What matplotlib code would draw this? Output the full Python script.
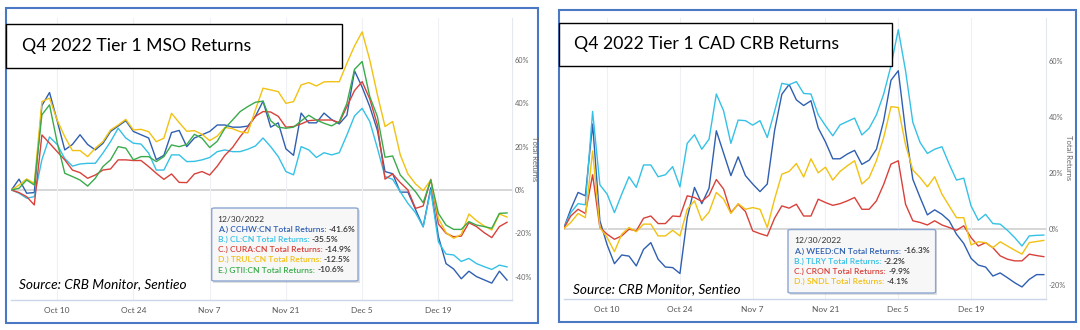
import numpy as np
import matplotlib
matplotlib.use('Agg')
import matplotlib.pyplot as plt
from matplotlib.patches import Rectangle, FancyBboxPatch

plt.rcParams['font.family'] = ['Lato', 'DejaVu Sans']

# ---- data (total returns, %, one value per trading day from Sep 30) ----
tick_labels = ['Oct 10', 'Oct 24', 'Nov 7', 'Nov 21', 'Dec 5', 'Dec 19']
tick_days = [6, 16, 26, 36, 46, 56]

mso_cchw = [0, 5, -1.5, -1.2, 39, 45, 32, 18.5, 21, 25.5, 21, 18.5, 21.5, 27, 29.5, 32, 27, 25.5, 24, 14,
            16, 26.5, 27.5, 20, 24, 25.5, 27, 30, 30, 29, 29, 29.5, 34, 41, 29, 31, 19, 16, 35.5, 31,
            31, 35.5, 32.5, 30.5, 34.5, 55, 47.5, 38.5, 27.5, 8.5, 7.5, -1, -1, -9, -17, 1, -21.5, -34,
            -36.5, -41, -37.5, -40, -41.5, -43, -37.5, -41.6]
mso_cl = [0, -1.5, -3.8, -3.1, 14, 24.5, 21, 14.5, 11, 12, 12.3, 12.3, 17, 22.3, 28.5, 24, 21.6, 21.2, 17,
          9.2, 9.2, 16.2, 16.2, 13.1, 13.2, 13.9, 15, 17.7, 18.5, 17.7, 17.7, 18.8, 20.3, 24, 20, 15.4,
          8.5, 7, 20, 18.5, 15, 17.2, 16.2, 17.2, 25.4, 34.2, 37.7, 31.6, 19.3, 6.2, 4.9, -0.8, -6.2,
          -10.5, -17, 0, -24, -29.6, -30, -33, -31.6, -34, -35.4, -36.7, -34.7, -35.5]
mso_cura = [0, -1.2, -3.1, -6.9, 25.4, 21.6, 17.7, 13.9, 9.2, 8, 5.4, 6.9, 9.2, 9.7, 13.9, 13.9, 13.6,
            13.6, 10.8, 7.7, 4.9, 7.4, 3.5, 3.4, 7.4, 8.5, 6.9, 11, 16, 19.6, 24.6, 29, 34, 36.2, 36,
            34, 29, 29.3, 30.5, 32, 32.3, 32.3, 32.3, 31.1, 38.5, 45.9, 50, 42, 30, 5, 7.4, 3.4, 0,
            -8.5, -7.4, 4.9, -15.7, -20, -21.6, -21.3, -15.1, -16.9, -19.7, -22, -16.9, -14.9]
mso_trul = [0, 2.3, 5.1, 3.1, 40.8, 42.4, 32.3, 24.6, 18.2, 18.2, 15.4, 19.3, 22.3, 27.7, 30, 32.6, 27.7,
            28, 26.9, 22.3, 23.9, 35.4, 31.1, 27.1, 27.4, 25.7, 22.8, 24.9, 28.9, 28.3, 26.9, 26.3, 37,
            47, 46.2, 45.4, 40, 40.8, 48.5, 49.6, 48, 49.9, 50, 50, 58.5, 66.5, 73, 60, 44, 29.3, 31.6,
            16.2, 7.4, 2.8, -0.3, 4.6, -13.1, -19.7, -22.3, -20.5, -11.1, -14.2, -16.6, -18.5, -11.1,
            -12.5]
mso_gtii = [0, 0.8, 4.6, 2.3, 34.7, 39.3, 22, 7.7, 6.2, 4.6, 1.8, 5.4, 10.8, 13.9, 20, 19.3, 13.9, 15.4,
            15.4, 13.1, 15.4, 20.8, 20, 21, 25.7, 23.9, 19.6, 22.5, 28.5, 32.3, 36.2, 38.5, 40.5, 41, 32,
            29, 28.5, 29, 31.9, 34.5, 32.3, 30.8, 29.6, 31.6, 40, 55.7, 59.3, 43.1, 33.9, 15.1, 15.7,
            6.9, 3.1, -0.8, -5.9, 4.6, -10.8, -16.2, -18.2, -18.2, -14.6, -16.2, -16.9, -17.7, -10.8,
            -10.6]

cad_weed = [0, 7, 13, 11.8, 37.4, 2.9, -5.7, -12.4, -9.3, -9.7, -13.2, -7.3, -4.9, -10.8, -13.6, -13.8,
            -15.9, 4, 14.8, 9, 14.5, 35, 27, 19, 25.7, 19, 16, 13.3, 16, 35, 48, 51.5, 46, 44, 45.7, 36,
            31, 25, 25, 26.7, 28, 23, 24.5, 28.4, 38.6, 53, 56.4, 35, 17.7, 11.2, 5, 6.8, 5.2, 2.9,
            -1.9, -5.2, -10.5, -12.9, -13.6, -16.8, -15.7, -17.4, -19.2, -20.7, -18, -16.3, -16.3]
cad_tlry = [0, 5.8, 9, 8.6, 41.9, 15.7, 12.4, 5.8, 12.4, 18.6, 14.8, 22.8, 22.8, 18.6, 19.3, 22.2, 15,
            30.5, 33.6, 28.4, 32, 48.1, 42.1, 30.5, 38.8, 38.6, 37, 38.6, 32.6, 41.9, 51.9, 51.4, 52.5,
            48.3, 48.1, 40.7, 36.8, 33.2, 37.1, 38.3, 39.5, 33.5, 35.9, 40.7, 48.1, 58.2, 71, 56.4, 38,
            30.8, 26.9, 28.4, 29.3, 23.1, 17.4, 18.1, 8.2, 3.1, 5.2, 1.9, 1.7, -0.5, -3.1, -6.1, -2.5,
            -2.3, -2.2]
cad_cron = [0, 4.6, 7, 5.5, 19.3, 0.5, -1.9, -3.7, -2.5, -0.1, -0.7, 3.8, 4.6, 1.9, 1.9, 4.6, 4.4, 11.8,
            11.2, 9.8, 12, 17.6, 14.2, 5.8, 8.8, 6.2, -0.7, -1.7, -2.5, 3.8, 8.2, 7.4, 8.8, 4.6, 4.6,
            10.6, 9.4, 8.4, 9, 10, 11.2, 7, 7, 10, 15.9, 23.1, 24.3, 8.8, 2.9, 2.3, 1.4, 2.9, 1.4, 0.5,
            -0.5, 1.1, -3.1, -6.1, -4.9, -6.7, -9.6, -10.8, -11.4, -11.4, -9, -9.5, -9.9]
cad_sndl = [0, 2.3, 5.5, 4, 27.8, 0.5, -3.1, -8.1, -1.9, 0.5, -1, 1.7, 1.7, -2.5, -2.5, -0.5, -2.5, 7,
            10, 3, 6, 13, 10.6, 5.5, 9, 7, 7.6, 7, 0.5, 10.6, 19.5, 20.5, 23.3, 18.5, 25, 20, 22, 17.4,
            20.5, 22.5, 24.3, 16, 18.3, 24.3, 32.6, 43.6, 43.3, 30, 21, 18.3, 15, 18.6, 12.4, 8.2, 4, 4,
            -5.7, -4.6, -4.9, -6.7, -4.6, -6.1, -7.6, -9, -4.9, -4.5, -4.1]

mso_names = ['A.) CCHW:CN Total Returns:', 'B.) CL:CN Total Returns:', 'C.) CURA:CN Total Returns:',
             'D.) TRUL:CN Total Returns:', 'E.) GTII:CN Total Returns:']
mso_final = ['-41.6%', '-35.5%', '-14.9%', '-12.5%', '-10.6%']
cad_names = ['A.) WEED:CN Total Returns:', 'B.) TLRY Total Returns:', 'C.) CRON Total Returns:',
             'D.) SNDL Total Returns:']
cad_final = ['-16.3%', '-2.2%', '-9.9%', '-4.1%']

BLUE, CYAN, RED, YELLOW, GREEN = '#2f5fb0', '#35c1e6', '#d8413a', '#f2c112', '#3aab4b'

W, H = 1080, 330
fig = plt.figure(figsize=(W / 100, H / 100), dpi=100)
renderer = fig.canvas.get_renderer()


def fx(px):
    return px / W


def fy(py):
    return 1 - py / H


def frame(x0, y0, x1, y1, **kw):
    r = Rectangle((fx(x0), fy(y1)), (x1 - x0) / W, (y1 - y0) / H, transform=fig.transFigure, **kw)
    fig.patches.append(r)
    return r


def panel(x0, x1, y0, y1, series, colors, yticks, ylim, xmax):
    ax = fig.add_axes([fx(x0), fy(y1), (x1 - x0) / W, (y1 - y0) / H])
    ax.patch.set_alpha(0)
    ax.axhline(0, color='#d3d3d3', lw=1.3, zorder=1)
    for s, c in zip(series, colors):
        ax.plot(np.arange(len(s)), s, color=c, lw=1.0, zorder=2)
    ax.set_xlim(0, xmax)
    ax.set_ylim(*ylim)
    for side in ['top', 'left']:
        ax.spines[side].set_visible(False)
    ax.spines['bottom'].set_color('#ccd6eb')
    ax.spines['bottom'].set_linewidth(1.0)
    ax.spines['right'].set_color('#e4e8ef')
    ax.spines['right'].set_linewidth(0.8)
    ax.yaxis.tick_right()
    ax.set_yticks(yticks)
    ax.set_yticklabels([f'{t}%' for t in yticks])
    ax.tick_params(axis='y', length=0, pad=2, labelsize=5.3, labelcolor='#666666')
    ax.set_xticks(tick_days)
    ax.set_xticklabels(tick_labels)
    ax.tick_params(axis='x', length=0, pad=5, labelsize=6, labelcolor='#555555')
    ax.grid(axis='x', color='#eef0f5', lw=0.8)
    return ax


def tooltip(x0, y0, x1, y1, tx, ty, names, finals, colors):
    frame(x0 + 1.5, y0 + 1.5, x1 + 1.5, y1 + 1.5, color='#000000', alpha=0.12, lw=0, zorder=4)
    box = FancyBboxPatch((fx(x0), fy(y1)), (x1 - x0) / W, (y1 - y0) / H,
                         boxstyle='round,pad=0,rounding_size=0.003', transform=fig.transFigure,
                         facecolor='#f7f7f7', edgecolor='#8aa6d2', lw=1.0, zorder=5)
    fig.patches.append(box)
    fig.text(fx(tx), fy(ty), '12/30/2022', fontsize=6.1, color='#333333', va='center', zorder=6)
    for k, (n, v, c) in enumerate(zip(names, finals, colors)):
        yy = ty + 10.2 * (k + 1)
        t = fig.text(fx(tx), fy(yy), n, fontsize=6.1, color=c, va='center', weight='semibold', zorder=6)
        bb = t.get_window_extent(renderer)
        fig.text((bb.x1 + 2.5) / W, fy(yy), v, fontsize=6.1, color='#333333', va='center',
                 weight='semibold', zorder=6)


# ---- left panel: MSO ----
panel(11.4, 511.6, 18, 300, [mso_cchw, mso_cl, mso_cura, mso_trul, mso_gtii],
      [BLUE, CYAN, RED, YELLOW, GREEN], [-40, -20, 0, 20, 40, 60], (-50.8, 79.4), 65.6)
# ---- right panel: CAD CRB ----
panel(563.5, 1046, 18, 299.3, [cad_weed, cad_tlry, cad_cron, cad_sndl],
      [BLUE, CYAN, RED, YELLOW], [-20, 0, 20, 40, 60], (-25.1, 75.2), 66.3)

# panel borders
frame(6.2, 8.3, 538, 322.7, fill=False, edgecolor='#4a78c4', lw=1.5, zorder=3)
frame(558.5, 10, 1076, 322.3, fill=False, edgecolor='#4a78c4', lw=1.5, zorder=3)

# title boxes
frame(6.2, 24, 342, 68, facecolor='white', edgecolor='black', lw=1.0, zorder=4)
fig.text(fx(21.5), fy(46), 'Q4 2022 Tier 1 MSO Returns', fontsize=12.7, va='center', color='black', zorder=5)
frame(558.5, 22.7, 892, 66, facecolor='white', edgecolor='black', lw=1.0, zorder=4)
fig.text(fx(574), fy(44.5), 'Q4 2022 Tier 1 CAD CRB Returns', fontsize=12.7, va='center', color='black', zorder=5)

# axis titles
fig.text(fx(535), fy(159), 'Total Returns', rotation=270, fontsize=5.5, color='#666666',
         ha='center', va='center')
fig.text(fx(1068), fy(158), 'Total Returns', rotation=270, fontsize=5.5, color='#666666',
         ha='center', va='center')

# source notes
fig.text(fx(19), fy(288), 'Source: CRB Monitor, Sentieo', fontsize=9.8, style='italic', color='black',
         va='baseline')
fig.text(fx(573), fy(293), 'Source: CRB Monitor, Sentieo', fontsize=9.8, style='italic', color='black',
         va='baseline')

# tooltips
tooltip(211.7, 208, 358, 281, 217.7, 219, mso_names, mso_final, [BLUE, CYAN, RED, YELLOW, GREEN])
tooltip(788, 229.5, 935.6, 293, 794, 240.7, cad_names, cad_final, [BLUE, CYAN, RED, YELLOW])

fig.savefig('out.png', dpi=100)
